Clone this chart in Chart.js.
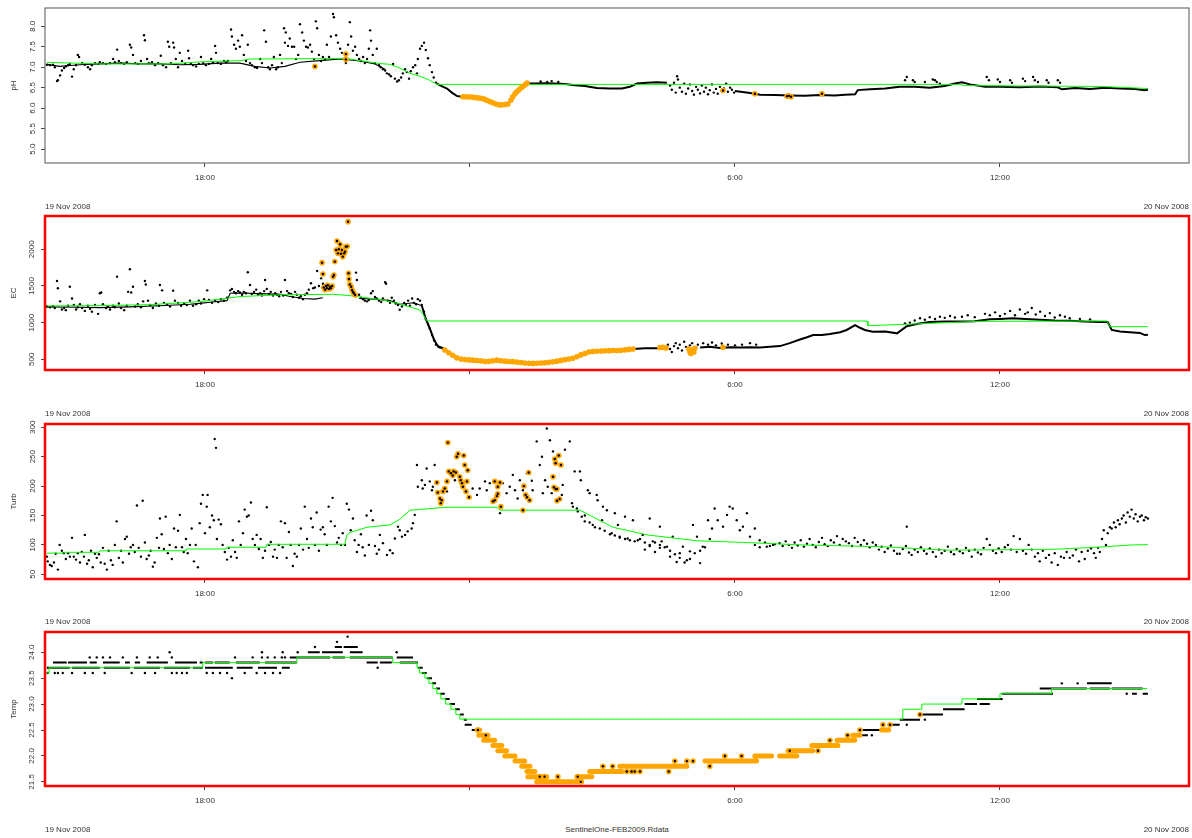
<!DOCTYPE html>
<html>
<head>
<meta charset="utf-8">
<script src="https://cdn.jsdelivr.net/npm/chart.js@4.4.0/dist/chart.umd.min.js"></script>
<style>
  body { margin: 0; background: #fff; width: 1192px; height: 838px; position: relative; overflow: hidden; }
  canvas { position: absolute; left: 0; }
  .lbl { position: absolute; font: 8px "Liberation Sans", Arial, sans-serif; line-height: 12px; color: #333; white-space: nowrap; }
</style>
</head>
<body>
<canvas id="ph" width="1192" height="198" style="top:0px"></canvas>
<canvas id="ec" width="1192" height="199" style="top:206px"></canvas>
<canvas id="turb" width="1192" height="200" style="top:414px"></canvas>
<canvas id="temp" width="1192" height="199" style="top:622px"></canvas>

<div class="lbl" style="left:45px;top:201px">19 Nov 2008</div>
<div class="lbl" style="right:3px;top:201px">20 Nov 2008</div>
<div class="lbl" style="left:45px;top:408px">19 Nov 2008</div>
<div class="lbl" style="right:3px;top:408px">20 Nov 2008</div>
<div class="lbl" style="left:45px;top:616px">19 Nov 2008</div>
<div class="lbl" style="right:3px;top:616px">20 Nov 2008</div>
<div class="lbl" style="left:45px;top:824px">19 Nov 2008</div>
<div class="lbl" style="left:617px;top:824px;transform:translateX(-50%)">SentinelOne-FEB2009.Rdata</div>
<div class="lbl" style="right:3px;top:824px">20 Nov 2008</div>

<script>
// time axis: hours after 19 Nov 2008 00:00
const X_MIN = 14.378, X_MAX = 40.28;
const timeTicks = [18, 24, 30, 36];
const timeLabels = ['18:00', '', '6:00', '12:00'];

const phTicks = [5.0, 5.5, 6.0, 6.5, 7.0, 7.5, 8.0];
const ecTicks = [500, 1000, 1500, 2000];
const turbTicks = [50, 100, 150, 200, 250, 300];
const tempTicks = [21.5, 22.0, 22.5, 23.0, 23.5, 24.0];

// ---------- pH ----------
const phRaw = [
  [14.42,7.06],[14.49,7.05],[14.56,7.06],[14.60,7.0],[14.65,6.66],[14.67,6.68],[14.72,6.8],[14.76,6.92],[14.81,6.98],[14.85,7.02],
  [14.90,7.05],[14.94,7.08],[14.99,6.77],[15.03,6.95],[15.08,7.05],[15.12,7.3],[15.15,7.25],[15.22,7.1],[15.28,7.06],[15.35,7.0],
  [15.40,6.95],[15.44,7.05],[15.51,7.1],[15.58,7.08],[15.62,7.12],[15.69,7.1],[15.76,7.08],[15.85,7.1],[15.92,7.2],[15.96,7.12],
  [16.01,7.43],[16.05,7.15],[16.10,7.1],[16.17,7.08],[16.23,7.12],[16.30,7.55],[16.33,7.48],[16.37,7.3],[16.42,7.1],[16.48,7.08],
  [16.55,7.15],[16.62,7.78],[16.64,7.66],[16.69,7.2],[16.73,7.1],[16.80,7.12],[16.87,7.05],[16.94,7.1],[17.00,7.28],[17.05,7.05],
  [17.12,7.0],[17.16,7.62],[17.19,7.5],[17.23,7.1],[17.28,7.6],[17.30,7.48],[17.34,7.2],[17.39,7.0],[17.43,7.35],[17.48,7.15],
  [17.55,7.08],[17.62,7.4],[17.64,7.22],[17.68,7.1],[17.73,7.05],[17.80,7.02],[17.86,7.08],[17.91,7.25],[17.96,7.1],[18.02,7.05],
  [18.09,7.08],[18.14,7.2],[18.18,7.12],[18.23,7.52],[18.25,7.35],[18.29,7.1],[18.36,7.08],[18.43,7.15],[18.48,7.12],[18.52,7.15],
  [18.59,7.92],[18.61,7.75],[18.66,7.55],[18.70,7.45],[18.75,7.65],[18.79,7.5],[18.84,7.78],[18.88,7.3],[18.93,7.15],[18.97,7.55],
  [19.02,7.1],[19.06,7.05],[19.13,7.0],[19.18,6.98],[19.25,7.2],[19.29,7.1],[19.34,7.9],[19.38,7.62],[19.43,7.0],[19.47,6.95],
  [19.52,7.05],[19.56,7.25],[19.61,6.95],[19.65,7.0],[19.70,7.3],[19.74,7.1],[19.79,7.95],[19.81,7.6],[19.83,7.85],[19.88,7.52],
  [19.92,7.7],[19.97,7.5],[20.02,7.5],[20.06,7.2],[20.11,7.3],[20.15,8.05],[20.20,7.85],[20.24,7.65],[20.29,7.5],[20.33,7.48],
  [20.38,7.55],[20.42,7.38],[20.47,7.2],[20.51,8.12],[20.54,7.95],[20.58,7.3],[20.63,7.15],[20.67,7.25],[20.72,7.2],[20.76,7.55],
  [20.81,7.25],[20.85,7.75],[20.90,8.3],[20.92,8.22],[20.97,7.78],[21.01,7.6],[21.06,7.45],[21.10,7.35],[21.15,7.2],[21.19,7.1],
  [21.24,7.55],[21.28,8.1],[21.31,7.75],[21.35,7.4],[21.40,7.5],[21.44,7.3],[21.49,7.2],[21.53,7.15],[21.58,7.25],[21.62,7.1],
  [21.67,7.2],[21.71,7.45],[21.74,7.9],[21.76,7.65],[21.80,7.3],[21.85,7.1],[21.89,7.45],[21.94,7.05],[21.98,7.0],[22.03,6.95],
  [22.08,6.92],[22.12,6.85],[22.17,6.82],[22.21,6.78],[22.26,7.08],[22.30,6.72],[22.35,6.65],[22.39,6.68],[22.44,6.75],[22.48,6.85],
  [22.53,6.95],[22.57,6.88],[22.62,6.72],[22.66,6.9],[22.71,7.0],[22.76,7.05],[22.80,6.85],[22.82,7.2],[22.87,7.45],[22.91,7.52],
  [22.96,7.6],[23.00,7.42],[23.05,7.22],[23.09,7.05],[23.14,6.88],[23.18,6.75],[23.23,6.62],
  [25.60,6.65],[25.75,6.64],[25.85,6.66],[26.00,6.64],
  [28.53,6.55],[28.57,6.45],[28.62,6.62],[28.66,6.38],[28.69,6.78],[28.71,6.7],[28.75,6.5],[28.80,6.4],[28.85,6.6],[28.89,6.35],
  [28.94,6.48],[28.98,6.58],[29.03,6.42],[29.07,6.33],[29.12,6.52],[29.16,6.45],[29.21,6.36],[29.25,6.55],[29.30,6.4],[29.34,6.5],
  [29.39,6.34],[29.43,6.44],[29.48,6.58],[29.52,6.38],[29.57,6.47],[29.61,6.35],[29.66,6.52],[29.70,6.42],[29.75,6.48],[29.80,6.6],
  [29.84,6.4],[29.89,6.5],[29.93,6.45],[29.98,6.38],
  [33.85,6.68],[33.89,6.76],[34.03,6.68],[34.07,6.64],[34.30,6.64],[34.48,6.7],[34.53,6.68],[34.57,6.64],[34.64,6.6],[35.70,6.76],
  [35.75,6.68],[35.95,6.7],[36.00,6.64],[36.23,6.68],[36.27,6.62],[36.52,6.72],[36.57,6.66],[36.75,6.76],[36.79,6.68],[36.86,6.64],
  [37.06,6.68],[37.10,6.62],[37.31,6.68],[37.36,6.62]
];
// dense baseline of the noisy evening readings (drawn thin)
const phBase = [
  [14.42,7.07],[14.71,7.02],[14.94,7.04],[15.17,7.06],[15.62,7.08],[16.07,7.1],[16.53,7.08],[16.98,7.08],[17.43,7.06],[17.88,7.07],
  [18.34,7.1],[18.79,7.1],[19.13,7.02],[19.47,6.98],[19.81,7.02],[20.15,7.12],[20.60,7.16],[21.06,7.2],[21.51,7.15],[21.85,7.08],
  [22.08,6.95]
];
// steady runs of readings, drawn as a thick trace (null = gap)
const phTrace = [
  [23.25,6.6],[23.37,6.53],[23.48,6.48],[23.59,6.38],[23.70,6.3],[23.84,6.27],[23.9,null],
  [25.29,6.6],[25.47,6.6],[25.70,6.61],[25.92,6.6],[26.15,6.59],[26.38,6.56],[26.60,6.54],[26.87,6.49],[27.17,6.48],[27.44,6.48],
  [27.62,6.52],[27.78,6.6],[28.01,6.62],[28.23,6.63],[28.46,6.62],[28.5,null],
  [30.00,6.42],[30.34,6.37],[30.57,6.33],[30.91,6.32],[31.24,6.31],[31.58,6.3],[31.92,6.32],[32.26,6.31],[32.49,6.33],[32.72,6.34],
  [32.78,6.44],[33.06,6.46],[33.40,6.48],[33.73,6.52],[34.07,6.52],[34.41,6.5],[34.75,6.54],[34.98,6.6],[35.14,6.63],[35.32,6.58],
  [35.66,6.52],[36.00,6.52],[36.45,6.51],[36.91,6.53],[37.31,6.51],[37.40,6.46],[37.70,6.49],[38.04,6.47],[38.38,6.5],[38.72,6.48],
  [39.06,6.47],[39.28,6.44],[39.35,6.45]
];
const phGreen = [
  [14.42,7.12],[15.62,7.08],[17.21,7.08],[17.89,7.13],[18.79,7.16],[19.02,7.2],[20.83,7.21],[21.17,7.22],[21.51,7.16],[21.96,7.09],
  [22.19,7.07],[22.41,6.98],[22.64,6.85],[22.87,6.78],[23.09,6.68],[23.25,6.58],[35.09,6.58],[35.20,6.55],[38.26,6.53],[39.35,6.48]
];
const phFlagBand = [
  [23.84,6.28],[23.91,6.28],[23.98,6.27],[24.05,6.27],[24.11,6.26],[24.18,6.25],[24.25,6.24],[24.32,6.22],[24.38,6.19],[24.45,6.16],
  [24.52,6.13],[24.59,6.1],[24.66,6.08],[24.72,6.08],[24.79,6.09],[24.86,6.1],[24.93,6.2],[24.97,6.28],[25.02,6.35],[25.06,6.4],
  [25.11,6.45],[25.16,6.5],[25.20,6.53],[25.25,6.57],[25.29,6.61]
];
const phFlagPts = [[20.49,7.02],[21.19,7.32],[21.19,7.19],[29.73,6.43],[30.45,6.35],[31.18,6.29],[31.22,6.3],[31.27,6.28],[31.97,6.35]];

// ---------- EC ----------
const ecRaw = [
  [14.42,1220],[14.49,1210],[14.56,1225],[14.60,1200],[14.65,1568],[14.67,1468],[14.72,1290],[14.76,1180],[14.81,1200],[14.85,1170],
  [14.90,1230],[14.94,1490],[14.99,1330],[15.03,1240],[15.08,1180],[15.12,1210],[15.17,1250],[15.22,1200],[15.28,1160],[15.35,1230],
  [15.40,1190],[15.44,1150],[15.51,1240],[15.58,1120],[15.62,1400],[15.65,1410],[15.69,1250],[15.76,1200],[15.80,1220],[15.85,1180],
  [15.92,1230],[15.96,1210],[16.01,1627],[16.05,1260],[16.10,1200],[16.17,1170],[16.23,1230],[16.26,1420],[16.30,1727],[16.33,1410],
  [16.37,1490],[16.42,1220],[16.48,1250],[16.55,1210],[16.60,1290],[16.64,1568],[16.66,1520],[16.71,1300],[16.76,1240],[16.82,1200],
  [16.89,1260],[16.96,1230],[16.98,1513],[17.03,1440],[17.07,1270],[17.14,1250],[17.21,1220],[17.28,1436],[17.32,1300],[17.39,1270],
  [17.46,1230],[17.53,1260],[17.59,1240],[17.66,1300],[17.73,1230],[17.80,1250],[17.86,1300],[17.91,1260],[17.98,1320],[18.05,1440],
  [18.09,1310],[18.16,1270],[18.23,1300],[18.30,1280],[18.36,1320],[18.43,1300],[18.50,1340],[18.57,1440],[18.61,1460],[18.66,1420],
  [18.70,1400],[18.75,1430],[18.79,1410],[18.84,1380],[18.88,1420],[18.93,1400],[18.97,1686],[19.02,1513],[19.06,1390],[19.11,1420],
  [19.16,1450],[19.20,1380],[19.25,1400],[19.29,1370],[19.34,1430],[19.36,1582],[19.40,1460],[19.45,1390],[19.49,1420],[19.54,1370],
  [19.59,1400],[19.63,1380],[19.68,1360],[19.72,1420],[19.77,1370],[19.81,1582],[19.86,1430],[19.90,1400],[19.95,1390],[19.99,1350],
  [20.04,1420],[20.08,1380],[20.13,1340],[20.17,1360],[20.22,1320],[20.26,1380],[20.31,1400],[20.35,1450],[20.40,1536],[20.45,1470],
  [20.49,1480],[20.54,1705],[20.58,1500],[20.63,1604],[20.67,1530],
  [21.42,1682],[21.44,1582],[21.49,1380],[21.53,1340],[21.58,1320],[21.62,1300],[21.67,1290],[21.71,1310],[21.76,1400],[21.80,1430],
  [21.85,1350],[21.89,1330],[21.94,1300],[21.99,1280],[22.03,1330],[22.08,1550],[22.10,1530],[22.14,1300],[22.19,1270],[22.23,1340],
  [22.28,1300],[22.32,1260],[22.37,1240],[22.41,1175],[22.46,1220],[22.51,1270],[22.55,1240],[22.60,1300],[22.64,1230],[22.69,1330],
  [22.73,1270],[22.78,1250],[22.82,1320],[22.87,1300],[22.91,1240],[22.96,1150],[23.00,1050],[23.05,980],[23.09,920],[23.14,830],
  [23.19,760],[23.23,700],[23.28,675],[23.32,660],[23.37,655],
  [28.48,700],[28.53,640],[28.57,600],[28.62,680],[28.66,720],[28.71,650],[28.75,700],[28.80,620],[28.85,740],[28.89,670],
  [28.98,690],[29.03,720],[29.12,660],[29.16,700],[29.28,720],[29.39,700],[29.48,730],[29.57,690],[29.70,715],[29.84,700],
  [30.00,690],[30.16,700],[30.34,720],[30.48,700],
  [33.85,990],[33.96,1000],[34.07,1030],[34.19,1060],[34.30,1040],[34.41,1075],[34.53,1050],[34.64,1080],[34.75,1065],[34.87,1090],
  [34.98,1070],[35.14,1080],[35.27,1100],[35.43,1075],[35.66,1120],[35.77,1100],[35.89,1140],[36.00,1090],[36.11,1120],[36.23,1160],
  [36.34,1100],[36.45,1180],[36.57,1120],[36.63,1140],[36.72,1200],[36.81,1110],[36.91,1150],[37.02,1090],[37.13,1130],[37.24,1070],
  [37.36,1100],[37.47,1080],[37.58,1060],[37.81,1050],[38.04,1045]
];
const ecBase = [
  [14.42,1215],[15.17,1210],[15.62,1205],[16.30,1215],[16.98,1230],[17.66,1250],[17.88,1262],[18.22,1285],[18.50,1300],[18.57,1400],
  [18.79,1405],[19.25,1395],[19.72,1385],[19.90,1360],[20.22,1330],[20.49,1320],[20.67,1340],[20.7,null],
  [21.49,1330],[21.85,1320],[22.19,1300],[22.41,1250],[22.73,1270],[22.91,1230]
];
const ecTrace = [
  [22.91,1230],[23.00,1050],[23.09,920],[23.19,760],[23.28,675],
  [23.37,655],[23.43,627],[23.55,580],[23.71,520],[23.84,500],[24.00,490],[24.23,480],[24.38,468],[24.61,488],[24.79,475],
  [24.97,468],[25.18,455],[25.36,445],[25.58,450],[25.74,454],[25.92,470],[26.10,490],[26.33,513],[26.49,558],[26.72,604],
  [26.94,612],[27.10,618],[27.40,620],[27.69,640],[27.96,652],[28.23,650],[28.46,660],[28.48,null],
  [29.21,660],[29.43,670],[29.66,655],[29.89,665],[30.11,660],[30.34,665],[30.57,660],[30.79,670],[31.02,680],[31.24,720],
  [31.47,770],[31.63,800],[31.77,830],[31.97,830],[32.15,845],[32.38,870],[32.53,900],[32.72,965],[32.83,930],[32.94,900],
  [33.12,877],[33.40,880],[33.67,854],[33.89,950],[34.14,985],[34.41,1010],[34.75,1015],[35.09,1015],[35.43,1020],[35.77,1045],
  [36.00,1050],[36.29,1058],[36.57,1050],[36.91,1040],[37.24,1030],[37.58,1025],[37.92,1015],[38.26,1010],[38.44,1008],[38.53,900],
  [38.72,880],[38.94,870],[39.17,860],[39.28,830],[39.35,835]
];
const ecGreen = [
  [14.42,1227],[15.62,1232],[16.75,1245],[17.89,1286],[18.79,1355],[19.70,1380],[20.90,1386],[21.28,1368],[22.03,1309],[22.41,1255],
  [22.87,1172],[23.03,1022],[32.99,1022],[33.01,958],[34.19,985],[35.55,1018],[38.42,1022],[38.49,945],[39.35,945]
];
const ecFlagBand = [
  [23.43,627],[23.52,590],[23.61,555],[23.70,520],[23.80,505],[23.89,497],[23.98,492],[24.07,488],[24.16,484],[24.25,478],
  [24.34,470],[24.43,472],[24.52,480],[24.61,488],[24.70,480],[24.79,475],[24.88,470],[24.97,468],[25.06,462],[25.15,456],
  [25.24,450],[25.34,446],[25.43,444],[25.52,447],[25.61,450],[25.70,452],[25.79,458],[25.88,465],[25.97,475],[26.06,485],
  [26.15,495],[26.24,505],[26.33,513],[26.42,535],[26.51,560],[26.60,580],[26.69,600],[26.78,606],[26.87,610],[26.97,614],
  [27.06,617],[27.15,618],[27.24,619],[27.33,620],[27.42,622],[27.51,628],[27.60,635],[27.69,640],
  [28.30,660],[28.37,665],[28.44,655],[28.96,640],[28.98,600],[29.00,580],[29.03,620],[29.07,600],[29.09,650],[29.73,665]
];
const ecFlagPts = [
  [20.65,1818],[20.67,1664],[20.69,1480],[20.72,1450],[20.74,1500],[20.76,1470],[20.78,1510],[20.81,1460],[20.83,1490],[20.85,1470],
  [20.88,1500],[20.90,1627],[20.92,1650],[20.94,1832],[20.97,1991],[20.99,2114],[21.01,1945],[21.03,2000],[21.06,2068],[21.08,1940],
  [21.10,1991],[21.12,1900],[21.15,1945],[21.17,1968],[21.19,2036],[21.22,2040],[21.24,2377],[21.25,1673],[21.26,1595],[21.28,1520],
  [21.31,1490],[21.33,1445],[21.35,1420],[21.37,1400],[21.40,1377]
];

// ---------- Turbidity ----------
const turbRaw = [
  [14.42,80],[14.44,72],[14.49,66],[14.53,64],[14.58,70],[14.62,85],[14.67,58],[14.71,100],[14.76,90],[14.80,86],
  [14.85,76],[14.90,86],[14.94,80],[14.99,112],[15.03,80],[15.08,75],[15.12,86],[15.17,70],[15.21,88],[15.26,80],
  [15.28,117],[15.33,68],[15.37,74],[15.42,90],[15.46,62],[15.51,85],[15.55,78],[15.60,84],[15.64,70],[15.69,95],
  [15.73,68],[15.78,58],[15.82,90],[15.87,74],[15.91,66],[15.96,100],[16.00,140],[16.05,78],[16.10,90],[16.14,70],
  [16.19,110],[16.23,114],[16.28,85],[16.32,96],[16.37,100],[16.41,88],[16.46,167],[16.50,95],[16.55,80],[16.59,175],
  [16.64,104],[16.68,76],[16.73,82],[16.77,90],[16.82,63],[16.86,70],[16.91,112],[16.96,95],[16.98,145],[17.02,118],
  [17.07,93],[17.11,148],[17.16,86],[17.20,100],[17.25,76],[17.30,128],[17.34,96],[17.39,124],[17.43,151],[17.48,96],
  [17.52,88],[17.57,110],[17.61,86],[17.66,100],[17.70,128],[17.75,72],[17.79,100],[17.84,62],[17.88,137],[17.91,170],
  [17.95,185],[18.00,120],[18.04,165],[18.06,185],[18.11,130],[18.16,150],[18.20,142],[18.22,280],[18.25,265],[18.27,110],
  [18.31,143],[18.36,135],[18.40,100],[18.45,88],[18.50,75],[18.54,95],[18.59,80],[18.63,108],[18.68,88],[18.72,78],
  [18.77,140],[18.81,100],[18.86,120],[18.90,160],[18.95,148],[18.99,150],[19.04,172],[19.08,110],[19.13,100],[19.17,117],
  [19.22,93],[19.26,110],[19.31,78],[19.36,90],[19.40,164],[19.45,100],[19.49,105],[19.54,80],[19.58,92],[19.63,78],
  [19.67,100],[19.72,140],[19.76,96],[19.81,137],[19.85,78],[19.90,122],[19.94,100],[19.99,64],[20.03,85],[20.08,80],
  [20.13,100],[20.17,128],[20.22,92],[20.26,165],[20.31,110],[20.35,95],[20.40,145],[20.44,130],[20.49,100],[20.53,155],
  [20.58,90],[20.62,126],[20.67,130],[20.71,118],[20.76,100],[20.80,165],[20.85,140],[20.89,180],[20.94,132],[20.99,104],
  [21.03,112],[21.08,100],[21.12,120],[21.17,100],[21.21,170],[21.26,160],[21.30,125],[21.35,145],[21.39,108],[21.44,88],
  [21.48,100],[21.53,118],[21.57,96],[21.62,82],[21.66,150],[21.71,100],[21.76,158],[21.80,142],[21.85,98],[21.89,85],
  [21.94,92],[21.96,117],[22.03,103],[22.12,83],[22.19,91],[22.25,86],[22.30,111],[22.37,131],[22.41,125],[22.46,114],
  [22.53,117],[22.59,123],[22.68,128],[22.71,137],[22.75,151],[22.80,236],[22.82,199],[22.91,210],[22.93,196],[22.98,202],
  [23.02,230],[23.09,208],[23.14,193],[23.16,199],[23.20,236],
  [23.48,191],[23.66,210],[23.93,227],[24.06,196],[24.16,185],[24.22,196],[24.34,208],[24.38,193],[24.45,205],[24.56,179],
  [24.68,154],[24.74,205],[24.83,188],[24.90,199],[24.97,219],[25.02,193],[25.08,179],[25.13,210],[25.20,193],[25.29,222],
  [25.40,209],[25.42,193],[25.51,276],[25.58,236],[25.63,250],[25.65,188],[25.70,210],[25.74,298],[25.76,199],[25.81,278],
  [25.85,188],[25.88,259],[25.99,176],[26.08,185],[26.10,202],[26.15,262],[26.26,276],[26.31,171],[26.33,165],[26.37,225],
  [26.42,162],[26.44,157],[26.49,225],[26.51,210],[26.53,148],[26.60,140],[26.67,193],[26.71,188],[26.78,134],[26.87,185],
  [26.89,176],[26.99,142],[27.01,165],[27.10,159],[27.21,120],[27.28,154],[27.35,134],[27.39,114],[27.51,148],[27.57,111],
  [27.69,142],[27.80,108],[27.91,117],[28.07,145],[28.14,106],[28.30,131],[28.34,106],[28.46,97],[28.53,80],[28.59,114],
  [28.68,71],[28.75,86],[28.82,97],[28.91,74],[28.98,89],[29.05,134],[29.14,114],[29.21,69],[29.27,97],[29.39,142],
  [29.48,128],[29.54,162],[29.61,142],[29.73,131],[29.82,151],[29.88,165],[29.95,162],[30.04,142],[30.11,125],[30.18,131],
  [30.27,154],[30.34,114],[30.45,128],[30.56,108],[30.72,97],[30.86,100],
  [26.60,150],[26.71,138],[26.83,130],[26.94,128],[27.05,124],[27.17,118],[27.28,116],[27.39,112],[27.51,110],[27.62,108],
  [27.73,106],[27.85,110],[27.96,104],[28.07,100],[28.19,104],[28.30,100],[28.41,96],[28.53,90],[28.64,84],[28.75,78],
  [28.86,70],[28.98,76],[29.09,86],[29.21,90],[29.32,96],[29.43,110],[27.96,92],[28.07,98],[28.19,88],[28.30,95],
  [30.45,100],[30.56,96],[30.68,104],[30.79,98],[30.90,101],
  [31.01,103],[31.08,98],[31.15,106],[31.22,100],[31.29,95],[31.35,104],[31.42,99],[31.49,108],[31.56,97],[31.63,102],
  [31.69,110],[31.76,100],[31.83,96],[31.90,105],[31.97,112],[32.03,101],[32.10,98],[32.17,108],[32.24,104],[32.31,115],
  [32.37,100],[32.44,110],[32.51,106],[32.58,103],[32.65,98],[32.71,112],[32.78,105],[32.85,100],[32.92,108],[32.99,102],
  [33.05,96],[33.12,104],[33.19,100],[33.26,92],[33.32,97],[33.39,88],[33.46,94],[33.53,99],[33.60,90],[33.67,85],
  [33.73,85],[33.80,93],[33.87,98],[33.89,131],[33.94,87],[34.00,83],[34.07,92],[34.14,88],[34.21,96],[34.28,90],
  [34.34,85],[34.41,94],[34.48,88],[34.55,80],[34.62,92],[34.68,86],[34.75,90],[34.82,97],[34.89,88],[34.96,84],
  [35.02,93],[35.09,89],[35.16,86],[35.23,95],[35.30,90],[35.36,80],[35.43,92],[35.50,87],[35.57,84],[35.63,95],
  [35.70,110],[35.77,100],[35.84,90],[35.91,86],[35.97,94],[36.04,88],[36.11,96],[36.18,100],[36.25,92],[36.31,115],
  [36.38,88],[36.45,110],[36.52,90],[36.59,85],[36.65,100],[36.72,92],[36.79,80],[36.86,86],[36.90,72],[36.97,90],
  [37.04,78],[37.11,83],[37.17,70],[37.24,86],[37.31,66],[37.38,80],[37.45,78],[37.51,88],[37.58,78],[37.65,82],
  [37.72,92],[37.79,72],[37.85,88],[37.92,76],[37.99,90],[38.06,94],[38.13,86],[38.17,78],[38.22,95],[38.26,88],
  [38.31,110],[38.35,125],[38.40,100],[38.44,120],[38.49,130],[38.53,128],[38.58,138],[38.62,130],[38.67,142],[38.71,135],
  [38.76,145],[38.80,150],[38.85,138],[38.89,155],[38.94,148],[38.98,160],[39.03,145],[39.07,152],[39.12,140],[39.17,148],
  [39.21,150],[39.26,142],[39.30,147],[39.35,145]
];
const turbGreen = [
  [14.42,86],[14.79,86],[14.81,87.4],[15.60,87.4],[15.62,90],[17.55,90],[17.57,93],[18.48,93],[18.50,96],[19.38,96],
  [19.40,101],[21.17,101],[21.21,117],[21.28,121],[21.67,130],[22.19,134],[22.41,143.5],[22.64,159],[23.48,164],[24.61,164],
  [24.68,159],[26.49,159],[27.24,130],[28.01,117],[29.14,107],[30.27,104],[31.47,100],[33.28,97],[34.80,91],[37.20,92.5],
  [38.19,96],[39.01,100],[39.35,100.5]
];
const turbFlags = [
  [23.25,206],[23.27,189],[23.32,179],[23.34,171],[23.36,176],[23.39,191],[23.43,196],[23.48,208],[23.50,274],[23.52,225],
  [23.57,222],[23.61,218],[23.63,225],[23.68,223],[23.70,250],[23.73,255],[23.77,216],[23.79,210],[23.82,205],[23.84,199],
  [23.86,252],[23.88,236],[23.91,191],[23.93,208],[23.95,227],[23.98,181],
  [24.52,174],[24.56,176],[24.56,208],[24.61,183],[24.63,199],[24.63,187],[24.68,206],[24.70,165],
  [25.20,159],[25.22,200],[25.26,185],[25.29,181],[25.33,223],[25.35,176],
  [25.88,216],[25.90,198],[25.92,246],[25.94,195],[25.94,239],[25.97,195],[25.97,175],[26.01,252],[26.03,178],[26.06,236]
];

// ---------- Temperature (readings in 0.1 steps; runs = [from, to, value]) ----------
const tempRuns = [
  [14.42,14.94,23.7],[14.99,15.62,23.7],[15.71,16.30,23.7],[16.39,16.98,23.7],[17.07,17.66,23.7],[17.73,17.95,23.7],
  [14.56,14.87,23.8],[14.90,15.33,23.8],[15.39,15.55,23.8],[15.69,16.07,23.8],[16.19,16.30,23.8],[16.41,16.53,23.8],
  [16.68,17.16,23.8],[17.32,17.82,23.8],[17.88,17.95,23.8],
  [18.00,18.63,23.7],[18.72,19.08,23.7],[19.20,19.63,23.7],[19.74,19.92,23.7],
  [18.00,18.18,23.8],[18.22,18.56,23.8],[18.70,19.24,23.8],[19.36,20.08,23.8],
  [19.92,20.83,23.9],[20.89,21.17,23.9],[21.28,22.25,23.9],[22.34,22.71,23.9],
  [20.33,20.60,24.0],[20.65,21.12,24.0],[21.28,21.57,24.0],
  [20.94,21.10,24.1],[21.14,21.46,24.1],
  [21.66,21.91,23.8],[21.96,22.23,23.8],[22.41,22.82,23.8],
  [22.82,22.93,23.7],[22.91,23.02,23.6],[23.02,23.14,23.5],[23.14,23.23,23.4],[23.23,23.32,23.3],[23.32,23.43,23.2],
  [23.43,23.54,23.1],[23.54,23.66,23.0],[23.66,23.77,22.9],[23.77,23.86,22.8],[23.86,23.93,22.7],[23.88,24.04,22.6],
  [24.04,24.16,22.5],
  [32.87,33.01,22.4],[32.89,33.32,22.5],[33.55,33.73,22.6],[33.73,34.19,22.7],[34.23,34.71,22.8],[34.71,35.20,22.9],
  [35.20,35.48,23.0],[35.54,35.77,23.0],[35.48,36.06,23.1],[36.04,37.20,23.2],[36.90,37.97,23.3],[38.03,38.49,23.3],
  [38.53,39.23,23.3],[37.97,38.53,23.4],[38.99,39.10,23.2],[39.23,39.35,23.2]
];
const tempRaw = [
  [15.39,23.9],[15.55,23.9],[15.69,23.9],[15.85,23.9],[16.14,23.9],[16.46,23.9],[16.75,23.9],[16.93,23.9],[17.25,23.9],[18.68,23.9],
  [19.08,23.9],[19.29,23.9],[19.42,23.9],[19.58,23.9],[19.74,23.9],[19.81,23.9],
  [17.20,24.0],[19.29,24.0],[19.76,24.0],[20.10,24.0],[22.34,24.0],[20.49,24.1],[20.99,24.2],[21.23,24.3],
  [14.44,23.6],[14.60,23.6],[14.67,23.6],[14.78,23.6],[14.99,23.6],[15.28,23.6],[15.46,23.6],[15.73,23.6],[16.34,23.6],[16.64,23.6],
  [16.87,23.6],[17.25,23.6],[17.36,23.6],[17.48,23.6],[17.59,23.6],[18.04,23.6],[18.18,23.6],[18.34,23.6],[18.50,23.6],[18.90,23.6],
  [19.17,23.6],[19.36,23.6],[19.54,23.6],[19.70,23.6],[18.61,23.5],[21.91,23.7],
  [33.10,22.4],[33.89,22.6],[34.30,22.7],[37.40,23.4],[37.76,23.4],[38.87,23.2]
];
const tempGreen = [
  [14.42,23.6],[14.47,23.7],[17.95,23.8],[20.08,23.9],[22.25,23.8],[22.80,23.7],[22.86,23.6],[22.98,23.5],[23.07,23.4],[23.16,23.3],
  [23.25,23.2],[23.34,23.1],[23.45,23.0],[23.57,22.9],[23.68,22.8],[23.77,22.71],[33.80,22.9],[34.23,23.0],[35.14,23.1],[36.00,23.2],
  [37.17,23.3],[39.33,23.3]
];
const tempFlagRuns = [
  [24.16,24.22,22.5],[24.20,24.41,22.4],[24.31,24.56,22.3],[24.52,24.72,22.2],[24.63,24.83,22.1],[24.79,25.02,22.0],
  [25.02,25.24,21.9],[25.17,25.36,21.8],[25.29,25.47,21.7],[25.31,25.74,21.6],[25.51,26.53,21.5],[26.42,26.76,21.6],
  [26.71,27.44,21.7],[27.39,28.91,21.8],[29.32,30.49,21.9],[30.45,30.83,22.0],[31.01,31.40,22.0],[31.20,31.76,22.1],
  [31.74,32.33,22.2],[32.31,32.71,22.3],[32.67,32.83,22.4],[33.32,33.48,22.5]
];
const tempFlagPts = [
  [24.18,22.5],[24.36,22.4],[25.58,21.6],[25.69,21.6],[25.99,21.6],[26.51,21.5],[26.44,21.6],[27.01,21.8],[27.23,21.8],[27.55,21.7],
  [27.66,21.7],[27.73,21.7],[27.85,21.7],[28.50,21.7],[28.64,21.9],[28.91,21.9],[29.05,21.9],[29.43,21.8],[29.77,22.0],[30.15,22.0],
  [31.24,22.1],[31.88,22.1],[32.15,22.3],[32.55,22.4],[32.83,22.5],[33.35,22.6],[33.51,22.6],[34.19,22.8]
];

// ---------- helpers ----------
const toXY = a => a.map(p => ({ x: p[0], y: p[1] }));
const runsToXY = a => a.flatMap(r => [{ x: r[0], y: r[2] }, { x: r[1], y: r[2] }, { x: r[1], y: null }]);

const BLACK = '#000000', ORANGE = '#FFA500', GREEN = '#00FF00';

function dots(data, color, r) {
  return { data: data, showLine: false, pointRadius: r, pointBackgroundColor: color, pointBorderWidth: 0, pointHoverRadius: 0 };
}
function trace(data, color, w, extra) {
  return Object.assign({ data: data, showLine: true, borderColor: color, borderWidth: w, pointRadius: 0, fill: false, spanGaps: false, tension: 0 }, extra || {});
}

const framePlugin = {
  id: 'frame',
  afterDatasetsDraw(chart, args, opts) {
    const { ctx, chartArea: a } = chart;
    ctx.save();
    ctx.strokeStyle = opts.color;
    ctx.lineWidth = opts.width;
    ctx.strokeRect(a.left, a.top, a.right - a.left, a.bottom - a.top);
    ctx.restore();
  }
};

Chart.defaults.font.family = '"Liberation Sans", Arial, sans-serif';
Chart.defaults.font.size = 8;
Chart.defaults.color = '#333';

function panel(id, o) {
  return new Chart(document.getElementById(id), {
    type: 'line',
    data: { datasets: o.datasets },
    options: {
      responsive: false,
      animation: false,
      events: [],
      layout: { padding: { top: o.padTop, right: 3, left: 0, bottom: 0 } },
      plugins: {
        legend: { display: false },
        tooltip: { enabled: false },
        frame: { color: o.frameColor, width: o.frameWidth }
      },
      scales: {
        x: {
          type: 'linear',
          min: X_MIN,
          max: X_MAX,
          afterBuildTicks: s => { s.ticks = timeTicks.map(v => ({ value: v })); },
          afterFit: s => { s.height = 35; },
          ticks: {
            autoSkip: false, maxRotation: 0, padding: 6,
            callback: v => { const i = timeTicks.indexOf(v); return i < 0 ? '' : timeLabels[i]; }
          },
          grid: { display: true, drawOnChartArea: false, drawTicks: true, tickLength: 4, color: '#444' },
          border: { display: false }
        },
        y: {
          type: 'linear',
          min: o.yMin,
          max: o.yMax,
          afterBuildTicks: s => { s.ticks = o.yTicks.map(v => ({ value: v })); },
          afterFit: s => { s.width = 45; },
          ticks: {
            autoSkip: false, minRotation: 90, maxRotation: 90, crossAlign: 'center', padding: o.tickPad,
            callback: o.fmt
          },
          title: { display: true, text: o.title, padding: { top: 9, bottom: 0 } },
          grid: { display: true, drawOnChartArea: false, drawTicks: true, tickLength: 4, color: '#444' },
          border: { display: false }
        }
      }
    },
    plugins: [framePlugin]
  });
}

const oneDec = v => Number(v).toFixed(1);
const plain = v => String(v);

panel('ph', {
  title: 'pH', yMin: 4.66, yMax: 8.446, yTicks: phTicks, fmt: oneDec, tickPad: 3, padTop: 8,
  frameColor: '#707070', frameWidth: 1.2,
  datasets: [
    dots(toXY(phFlagPts), BLACK, 1.2),
    dots(toXY(phFlagBand.concat(phFlagPts)), ORANGE, 2.8),
    trace(toXY(phGreen), GREEN, 1),
    dots(toXY(phRaw), BLACK, 1.2),
    trace(toXY(phBase), BLACK, 1.1),
    trace(toXY(phTrace), BLACK, 2)
  ]
});

panel('ec', {
  title: 'EC', yMin: 354, yMax: 2454, yTicks: ecTicks, fmt: plain, tickPad: 0, padTop: 10,
  frameColor: '#FF0000', frameWidth: 2.5,
  datasets: [
    dots(toXY(ecFlagPts), BLACK, 1.2),
    dots(toXY(ecFlagBand.concat(ecFlagPts)), ORANGE, 2.8),
    trace(toXY(ecGreen), GREEN, 1),
    dots(toXY(ecRaw), BLACK, 1.2),
    trace(toXY(ecBase), BLACK, 1.1),
    trace(toXY(ecTrace), BLACK, 2)
  ]
});

panel('turb', {
  title: 'Turb', yMin: 42, yMax: 305.6, yTicks: turbTicks, fmt: plain, tickPad: 2, padTop: 10,
  frameColor: '#FF0000', frameWidth: 2.5,
  datasets: [
    dots(toXY(turbFlags), BLACK, 1.2),
    dots(toXY(turbFlags), ORANGE, 2.8),
    trace(toXY(turbGreen), GREEN, 1),
    dots(toXY(turbRaw), BLACK, 1.2)
  ]
});

panel('temp', {
  title: 'Temp', yMin: 21.42, yMax: 24.39, yTicks: tempTicks, fmt: oneDec, tickPad: 1, padTop: 10,
  frameColor: '#FF0000', frameWidth: 2.5,
  datasets: [
    dots(toXY(tempFlagPts), BLACK, 1.2),
    dots(toXY(tempFlagPts), ORANGE, 2.8),
    trace(runsToXY(tempFlagRuns), ORANGE, 5, { borderCapStyle: 'round' }),
    trace(toXY(tempGreen), GREEN, 1, { stepped: true }),
    dots(toXY(tempRaw), BLACK, 1.2),
    trace(runsToXY(tempRuns), BLACK, 2)
  ]
});
</script>
</body>
</html>
